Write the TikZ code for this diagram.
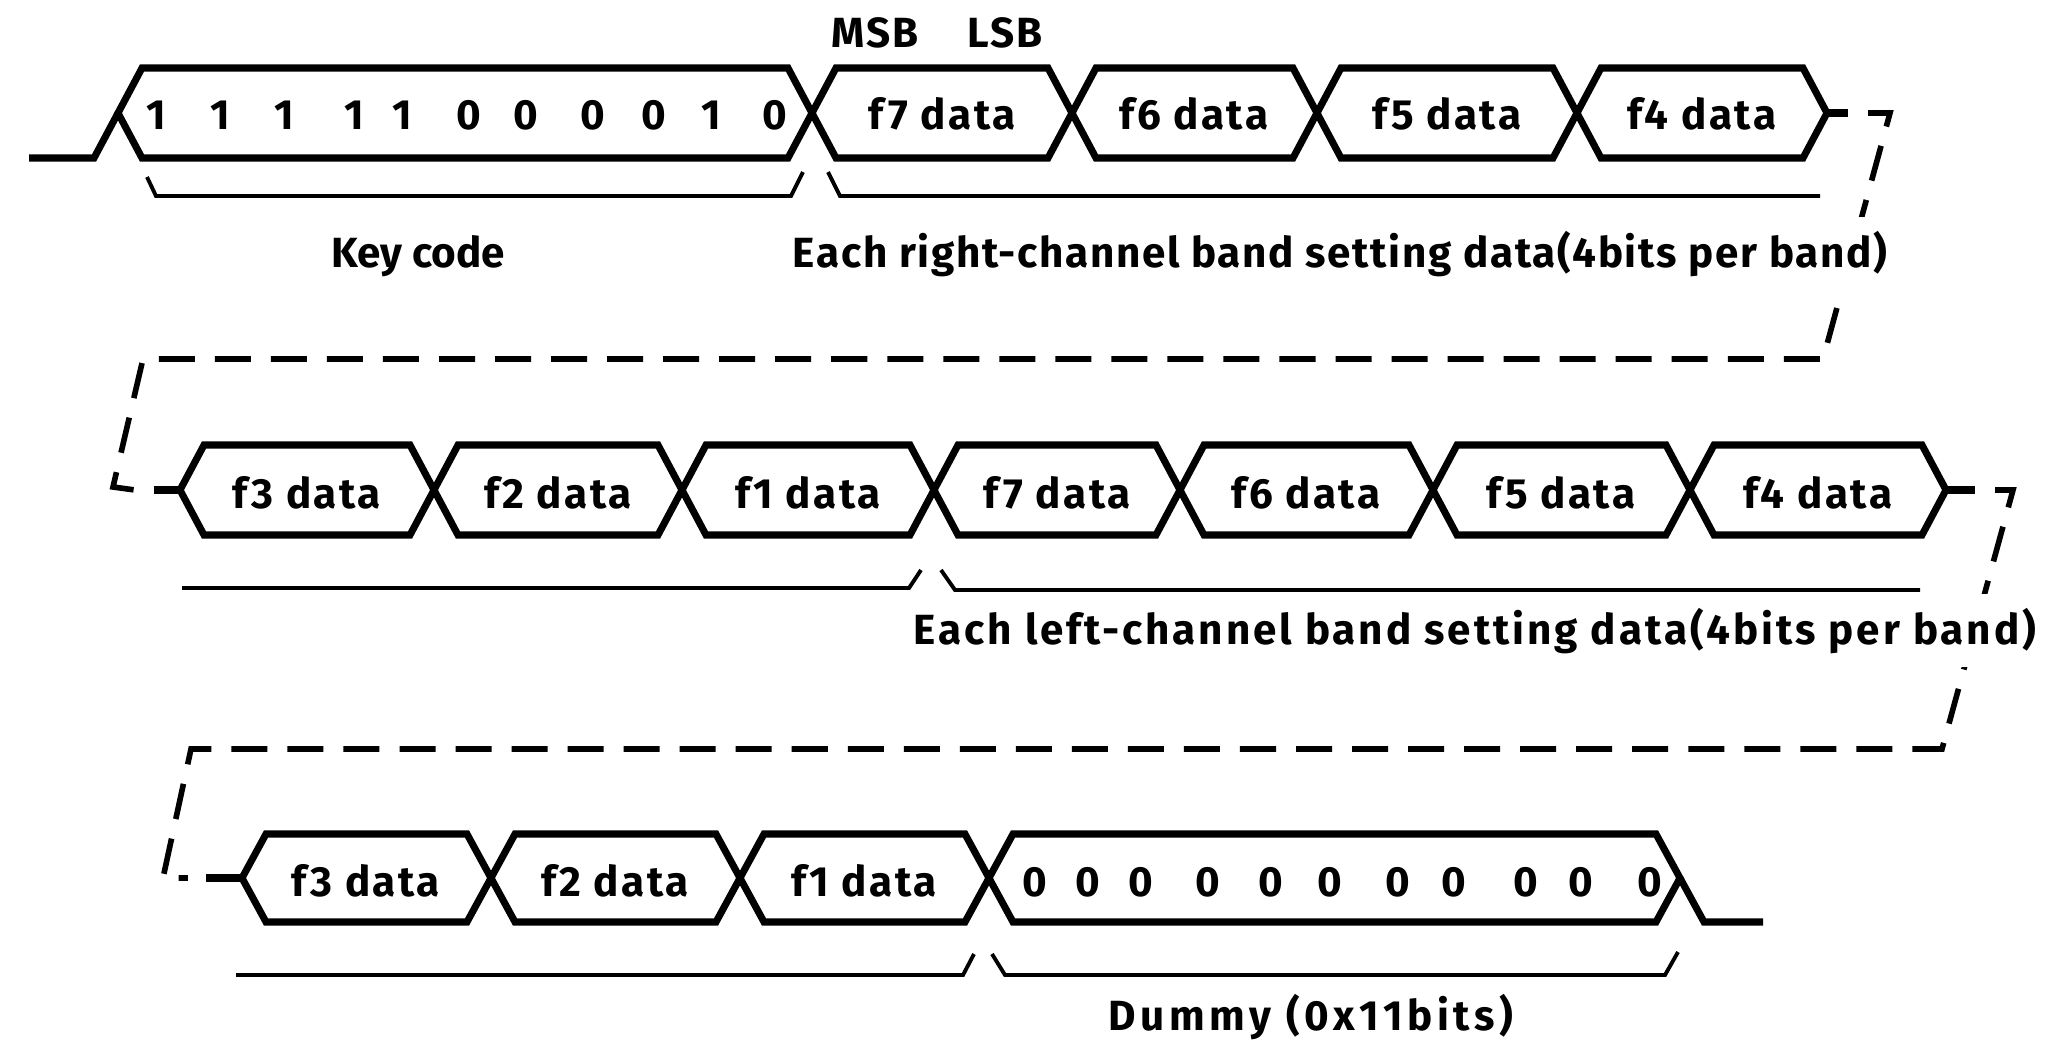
\documentclass[tikz,border=0pt]{standalone}
\usepackage{fontspec}
\setmainfont{Fira Sans}
\usetikzlibrary{positioning}
\tikzset{
  bus/.style={line width=2pt, line join=miter},
  wire/.style={line width=2pt},
  brace/.style={line width=1.1pt},
  link/.style={line width=1.6pt, dash pattern=on 0.36cm off 0.2cm},
  celltxt/.style={font=\bfseries\fontsize{12}{14}\selectfont\addfontfeature{LetterSpace=6}, anchor=base, inner sep=0pt},
  caption/.style={font=\bfseries\fontsize{12}{14}\selectfont\addfontfeature{LetterSpace=#1}, anchor=base,
                  fill=white, inner xsep=0pt, inner ysep=4pt},
  caption/.default=0
}

\begin{document}
\begin{tikzpicture}[x=0.01cm, y=-0.01cm]
    \useasboundingbox (0,0) rectangle (2045,1045);

    % wrap-around links
    \coordinate (endA) at (1827,113);
    \coordinate (tailA) at (1848,113);
    \coordinate (startB) at (180,490);
    \coordinate (leadB) at (154,490);
    \coordinate (endB) at (1946,490);
    \coordinate (tailB) at (1975,490);
    \coordinate (startC) at (242,878);
    \coordinate (leadC) at (206,878);
    \draw[wire] (endA) -- (tailA);
    \draw[wire] (leadB) -- (startB);
    \draw[wire] (endB) -- (tailB);
    \draw[wire] (leadC) -- (startC);
    \draw[link] ([xshift=0.2cm]tailA) -- (1890,113) -- (1823,359) -- (143,359) -- (113,487) -- ([xshift=-0.19cm]leadB);
    \draw[link] ([xshift=0.2cm]tailB) -- (2013,490) -- (1942,749) -- (191,749) -- (163,878) -- ([xshift=-0.18cm]leadC);

    % row 1: key code and right channel
    \draw[wire] (29,158) -- (94,158) -- (118,113);
    \foreach \a/\b in {118/812, 812/1072, 1072/1317, 1317/1577, 1577/1827}
        \draw[bus] (\a,113) -- (\a+24,68) -- (\b-24,68) -- (\b,113) -- (\b-24,158) -- (\a+24,158) -- cycle;
    \foreach \x/\v in {156/1, 220/1, 284/1, 354/1, 402/1, 469/0, 526/0, 593/0, 654/0, 711/1, 775/0}
        \node[celltxt] (bit\x) at (\x,129) {\v};
    \foreach \x/\t in {942/f7, 1194/f6, 1447/f5, 1702/f4}
        \node[celltxt] (r\t) at (\x,129) {\t\ data};
    \node[caption=5] (msb) at (875,47) {MSB};
    \node[caption=5] (lsb) at (1005,47) {LSB};
    \draw[brace] (147,177) -- (156,196) -- (791,196) -- (803,172);
    \draw[brace] (828,172) -- (840,196) -- (1820,196);
    \node[caption] (keycode) at (418,267) {Key code};
    \node[caption=4] (rightch) at (1340,267) {Each right-channel band setting data(4bits per band)};

    % row 2: left channel
    \foreach \a/\b in {180/434, 434/682, 682/934, 934/1180, 1180/1433, 1433/1690, 1690/1946}
        \draw[bus] (\a,490) -- (\a+24,445) -- (\b-24,445) -- (\b,490) -- (\b-24,535) -- (\a+24,535) -- cycle;
    \foreach \x/\t/\n in {307/f3/la3, 558/f2/la2, 808/f1/la1, 1057/f7/lb7, 1306/f6/lb6, 1561/f5/lb5, 1818/f4/lb4}
        \node[celltxt] (\n) at (\x,508) {\t\ data};
    \draw[brace] (182,588) -- (909,588) -- (921,570);
    \draw[brace] (941,570) -- (955,590) -- (1920,590);
    \node[caption=7] (leftch) at (1475,644) {Each left-channel band setting data(4bits per band)};

    % row 3: left channel and dummy
    \foreach \a/\b in {242/491, 491/740, 740/989, 989/1680}
        \draw[bus] (\a,878) -- (\a+24,834) -- (\b-24,834) -- (\b,878) -- (\b-24,922) -- (\a+24,922) -- cycle;
    \draw[wire] (1680,878) -- (1704,922) -- (1763,922);
    \foreach \x/\t/\n in {366/f3/lc3, 615/f2/lc2, 864/f1/lc1}
        \node[celltxt] (\n) at (\x,896) {\t\ data};
    \foreach \x in {1035, 1088, 1141, 1208, 1271, 1330, 1398, 1454, 1526, 1581, 1650}
        \node[celltxt] (z\x) at (\x,896) {0};
    \draw[brace] (236,975) -- (963,975) -- (974,954);
    \draw[brace] (992,954) -- (1005,975) -- (1665,975) -- (1678,952);
    \node[caption=11] (dummy) at (1311,1030) {Dummy (0x11bits)};
\end{tikzpicture}
\end{document}
